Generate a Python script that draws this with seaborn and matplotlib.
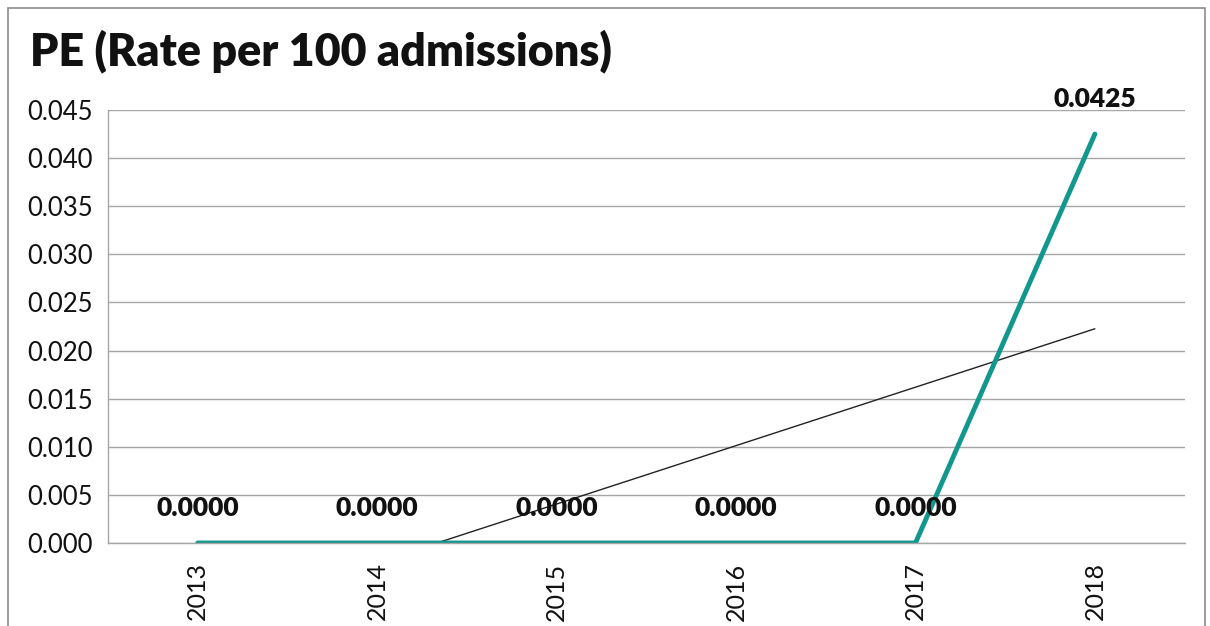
import matplotlib
matplotlib.use("Agg")
import matplotlib.pyplot as plt
import seaborn as sns
import numpy as np
import pandas as pd
from matplotlib.patches import Rectangle

# data
years = ["2013", "2014", "2015", "2016", "2017", "2018"]
rates = [0.0, 0.0, 0.0, 0.0, 0.0, 0.0425]
y_ticks = [0.000, 0.005, 0.010, 0.015, 0.020, 0.025, 0.030, 0.035, 0.040, 0.045]

teal = "#12978f"
grid_grey = "#a6a6a6"

sns.set_style("white")
plt.rcParams["font.family"] = ["Lato", "DejaVu Sans"]

df = pd.DataFrame({"pos": np.arange(len(years)), "rate": rates})

fig = plt.figure(figsize=(12.1, 6.26), dpi=100)
ax = fig.add_axes([0.0893, 0.1326, 0.8897, 0.6917])

# linear trendline
sns.regplot(data=df, x="pos", y="rate", scatter=False, ci=None, truncate=True,
            ax=ax, line_kws={"color": "#222222", "lw": 1.0})
sns.lineplot(data=df, x="pos", y="rate", ax=ax, color=teal, lw=3.5,
             solid_capstyle="round")

for x, v in zip(df["pos"], df["rate"]):
    ax.annotate(f"{v:.4f}", (x, v), xytext=(0, 25), textcoords="offset points",
                ha="center", va="center", fontsize=19, fontweight="heavy",
                color="#111111")

ax.set_xlim(-0.5, len(years) - 0.5)
ax.set_ylim(0, 0.045)
ax.set_yticks(y_ticks)
ax.set_yticklabels([f"{t:.3f}" for t in y_ticks], fontsize=18.5)
ax.set_xticks(df["pos"])
ax.set_xticklabels(years, rotation=90, fontsize=18)
ax.set_xticks(np.arange(-0.5, len(years)), minor=True)
ax.tick_params(axis="x", which="major", length=0, pad=14)
ax.tick_params(axis="x", which="minor", length=10, color=grid_grey, width=1)
ax.tick_params(axis="y", length=8, color=grid_grey, width=1, pad=3, labelcolor="#111111")
ax.tick_params(axis="x", labelcolor="#111111")
ax.grid(axis="y", color=grid_grey, lw=1)
ax.set_axisbelow(True)
ax.set_xlabel("")
ax.set_ylabel("")
for s in ["top", "right"]:
    ax.spines[s].set_visible(False)
for s in ["left", "bottom"]:
    ax.spines[s].set_color(grid_grey)
    ax.spines[s].set_linewidth(1)

fig.text(0.025, 0.918, "PE (Rate per 100 admissions)", fontsize=32.2,
         fontweight="heavy", va="center", ha="left", color="#111111")

# outer chart border
fig.add_artist(Rectangle((0.007, -0.01), 0.989, 0.997, transform=fig.transFigure,
                         fill=False, edgecolor="#8c8c8c", lw=1.2))

fig.savefig("out.png", dpi=100)
